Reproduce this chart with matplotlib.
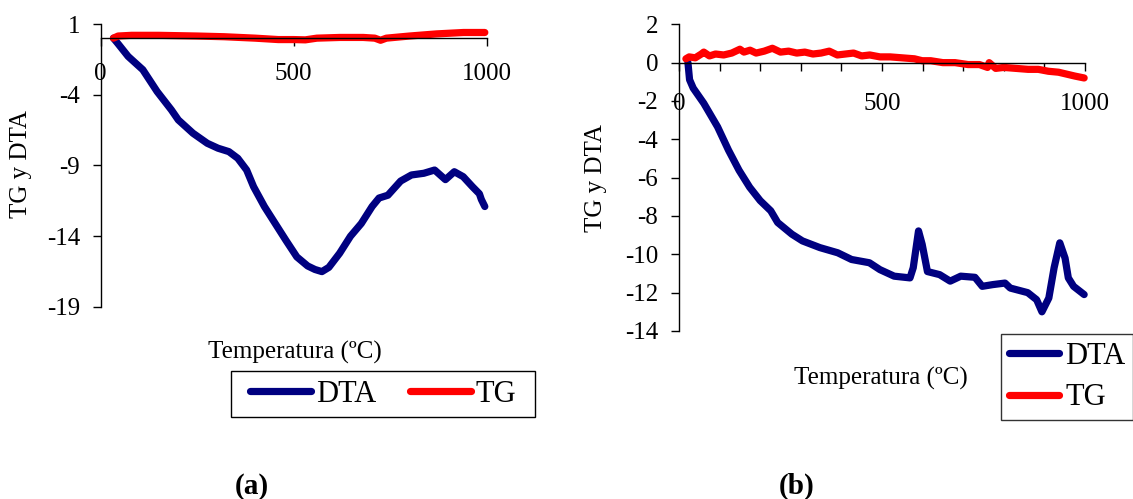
import matplotlib
matplotlib.use("Agg")
import matplotlib.pyplot as plt
from matplotlib.patches import Rectangle
from matplotlib.ticker import FixedLocator, FuncFormatter

plt.rcParams['font.family'] = ['Liberation Serif', 'DejaVu Serif']

# --- (a) muestra 1 ---
dta_a_t = [33, 45, 71, 109, 146, 183, 201, 239, 276, 304, 332, 355, 378, 396, 424, 452,
           480, 508, 536, 555, 573, 591, 619, 647, 675, 703, 721, 744, 777, 805, 837, 865,
           893, 916, 939, 963, 981, 986, 995]
dta_a = [0.0, -0.4, -1.29, -2.23, -3.77, -5.07, -5.78, -6.72, -7.43, -7.78, -8.02, -8.49,
         -9.32, -10.5, -11.9, -13.1, -14.3, -15.46, -16.1, -16.35, -16.5, -16.2, -15.2,
         -14.0, -13.1, -11.9, -11.3, -11.1, -10.1, -9.67, -9.55, -9.32, -10.0, -9.44,
         -9.79, -10.5, -11.0, -11.4, -11.9]
tg_a_t = [33, 45, 80, 150, 250, 320, 400, 460, 500, 530, 560, 620, 680, 710, 725, 740,
          800, 870, 940, 995]
tg_a = [0.0, 0.15, 0.2, 0.2, 0.15, 0.1, 0.0, -0.1, -0.1, -0.12, 0.0, 0.05, 0.05, 0.0,
        -0.15, 0.0, 0.15, 0.3, 0.4, 0.4]

# --- (b) muestra 2 ---
dta_b_t = [22, 26, 35, 61, 95, 122, 148, 174, 200, 226, 243, 278, 304, 347, 391, 425,
           469, 495, 530, 569, 577, 590, 599, 612, 642, 668, 694, 729, 747, 773, 803,
           816, 859, 881, 894, 911, 924, 938, 951, 959, 972, 998]
dta_b = [0.0, -0.89, -1.33, -2.12, -3.35, -4.57, -5.62, -6.5, -7.2, -7.73, -8.34, -8.95,
         -9.3, -9.65, -9.92, -10.27, -10.44, -10.8, -11.14, -11.23, -10.7, -8.78, -9.48,
         -10.9, -11.06, -11.4, -11.14, -11.2, -11.67, -11.58, -11.5, -11.76, -12.0,
         -12.37, -13.0, -12.28, -10.7, -9.4, -10.2, -11.23, -11.67, -12.1]
tg_b_t = [17, 25, 40, 55, 61, 75, 90, 110, 130, 150, 160, 175, 190, 210, 230, 250, 270,
          290, 310, 330, 350, 370, 390, 410, 430, 450, 470, 495, 520, 550, 580, 599, 620,
          650, 680, 712, 740, 760, 764, 780, 800, 830, 860, 885, 910, 935, 955, 975, 998]
tg_b = [0.2, 0.3, 0.25, 0.45, 0.55, 0.35, 0.45, 0.4, 0.5, 0.7, 0.55, 0.65, 0.5, 0.6,
        0.75, 0.55, 0.6, 0.5, 0.55, 0.45, 0.5, 0.6, 0.4, 0.45, 0.5, 0.35, 0.4, 0.3, 0.3,
        0.25, 0.2, 0.1, 0.1, 0.0, 0.0, -0.1, -0.1, -0.25, 0.0, -0.3, -0.25, -0.3, -0.35,
        -0.35, -0.45, -0.5, -0.6, -0.7, -0.8]

yticks_a = [1, -4, -9, -14, -19]
yticks_b = [2, 0, -2, -4, -6, -8, -10, -12, -14]

NAVY = '#000080'
RED = '#ff0000'
FS = 18
W, H = 1133, 499

fig = plt.figure(figsize=(11.33, 4.99), dpi=100)
ax1 = fig.add_axes([0.0889, 0.3848, 0.3407, 0.5671])
ax2 = fig.add_axes([0.5993, 0.3367, 0.3583, 0.6146])


def style_axis(ax, xmajor, xlabeled, yticks, ymin, ymax, xpad):
    ax.set_xlim(0, 1000)
    ax.set_ylim(ymin, ymax)
    ax.spines['top'].set_visible(False)
    ax.spines['right'].set_visible(False)
    ax.spines['bottom'].set_position(('data', 0))
    for s in ('left', 'bottom'):
        ax.spines[s].set_linewidth(1.0)
    ax.xaxis.set_major_locator(FixedLocator(xmajor))
    ax.xaxis.set_major_formatter(FuncFormatter(
        lambda v, p: str(int(v)) if int(v) in xlabeled else ''))
    ax.set_yticks(yticks)
    ax.set_yticklabels([str(v) for v in yticks])
    ax.tick_params(axis='x', direction='out', length=6, width=1, pad=xpad,
                   labelsize=FS)
    ax.tick_params(axis='y', direction='out', length=6, width=1, pad=9,
                   labelsize=FS)


style_axis(ax1, [0, 500, 1000], [0, 500, 1000], yticks_a, -19, 1, 12)
style_axis(ax2, list(range(0, 1001, 100)), [0, 500, 1000], yticks_b, -14, 2, 16)

lw = 5.2
for ax, (td, d, tt, t) in ((ax1, (dta_a_t, dta_a, tg_a_t, tg_a)),
                           (ax2, (dta_b_t, dta_b, tg_b_t, tg_b))):
    ax.plot(td, d, color=NAVY, lw=lw, solid_capstyle='round',
            solid_joinstyle='round', label='DTA', clip_on=False)
    ax.plot(tt, t, color=RED, lw=lw, solid_capstyle='round',
            solid_joinstyle='round', label='TG', clip_on=False)

# etiquetas de ejes
fig.text(21.5 / W, 1 - 164 / H, 'TG y DTA', rotation=90, fontsize=FS,
         ha='center', va='center')
fig.text(596 / W, 1 - 178 / H, 'TG y DTA', rotation=90, fontsize=FS,
         ha='center', va='center')
fig.text(295 / W, 1 - 352 / H, 'Temperatura (ºC)', fontsize=FS,
         ha='center', va='center')
fig.text(881 / W, 1 - 378 / H, 'Temperatura (ºC)', fontsize=FS,
         ha='center', va='center')

# leyenda (a): marco dibujado aparte, más ancho que el contenido
fig.patches.append(Rectangle((231 / W, 1 - 417 / H), 304 / W, 46 / H,
                             transform=fig.transFigure, fill=False,
                             edgecolor='black', linewidth=1.0))
h1, l1 = ax1.get_legend_handles_labels()
fig.legend(h1, l1, loc='center', bbox_to_anchor=(383 / W, 1 - 394 / H),
           ncol=2, fontsize=22, frameon=False,
           handlelength=2.0, handletextpad=0.15, columnspacing=1.1,
           borderpad=0.25)

h2, l2 = ax2.get_legend_handles_labels()
leg2 = fig.legend(h2, l2, loc='upper left', bbox_to_anchor=(1001 / W, 1 - 334 / H),
                  ncol=1, fontsize=22, frameon=True, fancybox=False,
                  handlelength=1.65, handletextpad=0.2, borderpad=0.25,
                  labelspacing=0.42, borderaxespad=0)
leg2.get_frame().set_edgecolor('black')
leg2.get_frame().set_linewidth(1.0)

fig.text(252 / W, 1 - 486 / H, '(a)', fontsize=21, fontweight='bold',
         ha='center', va='center')
fig.text(797 / W, 1 - 486 / H, '(b)', fontsize=21, fontweight='bold',
         ha='center', va='center')

fig.savefig('out.png', dpi=100, facecolor='white')
